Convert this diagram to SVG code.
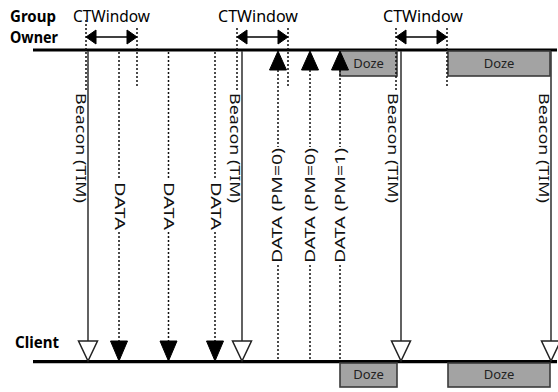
<svg xmlns="http://www.w3.org/2000/svg" width="558" height="392" viewBox="0 0 558 392">
<style>
.lbl{font-family:"Noto Sans","Open Sans",sans-serif;font-weight:bold;font-size:16.5px;fill:#000}
.ct{font-family:"Noto Sans","Open Sans",sans-serif;font-size:15.5px;fill:#000}
.vt{font-family:"Noto Sans","Open Sans",sans-serif;font-size:14px;fill:#111}
.dz{font-family:"Noto Sans","Open Sans",sans-serif;font-size:13px;fill:#222;text-anchor:middle}
.tl{stroke:#000;stroke-width:3.2;fill:none}
.sol{stroke:#3a3a3a;stroke-width:1.6;fill:none}
.dot{stroke:#111;stroke-width:1.5;stroke-dasharray:2 2;fill:none}
.hol{fill:#fff;stroke:#222;stroke-width:1.5}
.fil{fill:#000;stroke:#000;stroke-width:1}
.box{fill:#a3a3a3;stroke:#3a3a3a;stroke-width:1.6}
.ar{stroke:#000;stroke-width:1.6;fill:none}
</style>
<rect width="558" height="392" fill="#fff"/>
<g id="group-owner">
<text class="lbl" x="10" y="22" textLength="46" lengthAdjust="spacingAndGlyphs">Group</text>
<text class="lbl" x="10" y="43" textLength="48" lengthAdjust="spacingAndGlyphs">Owner</text>
<line class="tl" x1="33" y1="50" x2="557" y2="50"/>
</g>
<g id="client">
<text class="lbl" x="15" y="348" textLength="44" lengthAdjust="spacingAndGlyphs">Client</text>
<line class="tl" x1="33" y1="361.7" x2="557" y2="361.7"/>
</g>
<g id="doze-owner-1"><rect class="box" x="340" y="51" width="57" height="25"/><text class="dz" x="368.5" y="68">Doze</text></g>
<g id="doze-owner-2"><rect class="box" x="448" y="51" width="102" height="25"/><text class="dz" x="499" y="68">Doze</text></g>
<g id="doze-client-1"><rect class="box" x="340" y="363" width="57" height="24"/><text class="dz" x="368.5" y="379">Doze</text></g>
<g id="doze-client-2"><rect class="box" x="448" y="363" width="102" height="24"/><text class="dz" x="499" y="379">Doze</text></g>
<g id="ctwindow-1">
<text class="ct" x="73" y="22" textLength="77" lengthAdjust="spacingAndGlyphs">CTWindow</text>
<line class="dot" x1="86" y1="20" x2="86" y2="90"/>
<line class="dot" x1="137" y1="28" x2="137" y2="88"/>
<line class="ar" x1="92" y1="37" x2="131" y2="37"/>
<polygon class="fil" points="86,37 96,30 96,44"/>
<polygon class="fil" points="137,37 127,30 127,44"/>
</g>
<g id="ctwindow-2">
<text class="ct" x="218" y="22" textLength="80" lengthAdjust="spacingAndGlyphs">CTWindow</text>
<line class="dot" x1="237" y1="28" x2="237" y2="90"/>
<line class="dot" x1="288" y1="28" x2="288" y2="88"/>
<line class="ar" x1="243" y1="37" x2="282" y2="37"/>
<polygon class="fil" points="237,37 247,30 247,44"/>
<polygon class="fil" points="288,37 278,30 278,44"/>
</g>
<g id="ctwindow-3">
<text class="ct" x="383" y="22" textLength="80" lengthAdjust="spacingAndGlyphs">CTWindow</text>
<line class="dot" x1="396" y1="28" x2="396" y2="90"/>
<line class="dot" x1="447" y1="28" x2="447" y2="88"/>
<line class="ar" x1="402" y1="37" x2="441" y2="37"/>
<polygon class="fil" points="396,37 406,30 406,44"/>
<polygon class="fil" points="447,37 437,30 437,44"/>
</g>
<g id="connectors">
<g id="beacon-1">
<line class="sol" x1="88" y1="51" x2="88" y2="341"/>
<polygon class="hol" points="78.5,341 97.5,341 88,361"/>
<text class="vt" transform="translate(76,93) rotate(90)" textLength="110" lengthAdjust="spacingAndGlyphs">Beacon (TIM)</text>
</g>
<g id="beacon-2">
<line class="sol" x1="242" y1="51" x2="242" y2="341"/>
<polygon class="hol" points="232.5,341 251.5,341 242,361"/>
<text class="vt" transform="translate(230,93) rotate(90)" textLength="110" lengthAdjust="spacingAndGlyphs">Beacon (TIM)</text>
</g>
<g id="beacon-3">
<line class="sol" x1="401" y1="51" x2="401" y2="341"/>
<polygon class="hol" points="391.5,341 410.5,341 401,361"/>
<text class="vt" transform="translate(388,93) rotate(90)" textLength="110" lengthAdjust="spacingAndGlyphs">Beacon (TIM)</text>
</g>
<g id="beacon-4">
<line class="sol" x1="551" y1="51" x2="551" y2="341"/>
<polygon class="hol" points="541.5,341 560.5,341 551,361"/>
<text class="vt" transform="translate(538.5,93) rotate(90)" textLength="110" lengthAdjust="spacingAndGlyphs">Beacon (TIM)</text>
</g>
<g id="data-1">
<line class="dot" x1="119" y1="52" x2="119" y2="180"/>
<line class="dot" x1="119" y1="232" x2="119" y2="342"/>
<polygon class="fil" points="110.5,341 127.5,341 119,361"/>
<text class="vt" transform="translate(114.5,182) rotate(90)" textLength="48" lengthAdjust="spacingAndGlyphs">DATA</text>
</g>
<g id="data-2">
<line class="dot" x1="168.5" y1="52" x2="168.5" y2="180"/>
<line class="dot" x1="168.5" y1="232" x2="168.5" y2="342"/>
<polygon class="fil" points="160,341 177,341 168.5,361"/>
<text class="vt" transform="translate(163.5,182) rotate(90)" textLength="48" lengthAdjust="spacingAndGlyphs">DATA</text>
</g>
<g id="data-3">
<line class="dot" x1="215" y1="52" x2="215" y2="180"/>
<line class="dot" x1="215" y1="232" x2="215" y2="342"/>
<polygon class="fil" points="206.5,341 223.5,341 215,361"/>
<text class="vt" transform="translate(210.5,182) rotate(90)" textLength="48" lengthAdjust="spacingAndGlyphs">DATA</text>
</g>
<g id="data-pm-1">
<polygon class="fil" points="269.5,70 286.5,70 278,51"/>
<line class="dot" x1="278" y1="70" x2="278" y2="147"/>
<line class="dot" x1="278" y1="265" x2="278" y2="360"/>
<text class="vt" transform="translate(282,263) rotate(-90)" textLength="115" lengthAdjust="spacingAndGlyphs">DATA (PM=0)</text>
</g>
<g id="data-pm-2">
<polygon class="fil" points="301.5,70 318.5,70 310,51"/>
<line class="dot" x1="310" y1="70" x2="310" y2="147"/>
<line class="dot" x1="310" y1="265" x2="310" y2="360"/>
<text class="vt" transform="translate(314.5,263) rotate(-90)" textLength="115" lengthAdjust="spacingAndGlyphs">DATA (PM=0)</text>
</g>
<g id="data-pm-3">
<polygon class="fil" points="331.5,70 348.5,70 340,51"/>
<line class="dot" x1="340" y1="70" x2="340" y2="147"/>
<line class="dot" x1="340" y1="265" x2="340" y2="360"/>
<text class="vt" transform="translate(345,263) rotate(-90)" textLength="115" lengthAdjust="spacingAndGlyphs">DATA (PM=1)</text>
</g>
</g>
</svg>
